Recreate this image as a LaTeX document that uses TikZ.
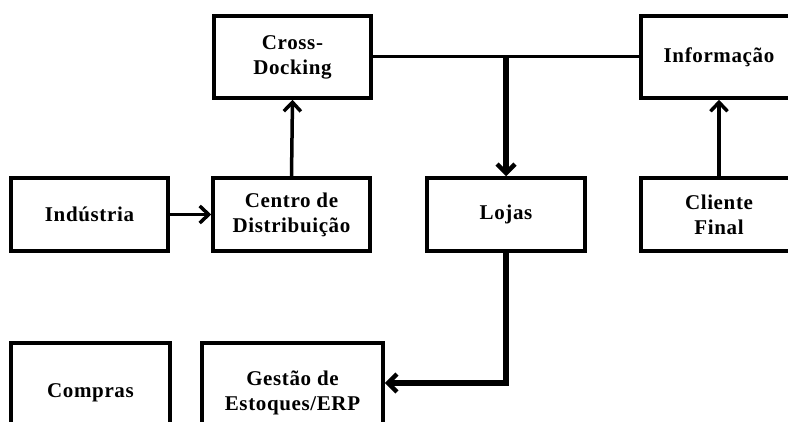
\documentclass[tikz,border=0pt]{standalone}
\usepackage{fontspec}
\setmainfont{Liberation Serif}[LetterSpace=3]
\usepackage{tikz}
\usetikzlibrary{arrows.meta,calc}
\definecolor{ink}{HTML}{000000}
\tikzset{
  box/.style={draw=ink,line width=3.5pt,fill=white,align=center,inner sep=2pt,
    font=\fontsize{21}{25}\selectfont\bfseries,minimum height=73pt},
  link/.style={draw=ink,line width=3pt},
  flow/.style={-{Straight Barb[length=9pt,width=17pt,line width=3.5pt]},draw=ink,line width=3.5pt},
  flowthick/.style={-{Straight Barb[length=9pt,width=18pt,line width=4.5pt]},draw=ink,line width=5.5pt}
}
\begin{document}
\begin{tikzpicture}[x=1pt,y=-1pt]
  \useasboundingbox (0,0) rectangle (788,422);
  \clip (0,0) rectangle (788,422);
  \node[box,minimum width=157pt,minimum height=82pt] (cross) at (292.5,57) {Cross-\\Docking};
  \node[box,minimum width=156pt,minimum height=82pt] (info) at (719,57) {Informação};
  \node[box,minimum width=157pt] (ind) at (89.5,214.5) {Indústria};
  \node[box,minimum width=157pt] (cd) at (291.5,214.5) {Centro de\\Distribuição};
  \node[box,minimum width=158pt] (lojas) at (506,214.5) {Lojas};
  \node[box,minimum width=156pt] (cliente) at (719,214.5) {Cliente\\Final};
  \node[box,minimum width=159pt,minimum height=100pt] (compras) at (90.5,393) {Compras};
  \node[box,minimum width=181pt,minimum height=100pt] (gestao) at (292.5,393) {Gestão de\\Estoques/ERP};
  \coordinate (split) at (506,57);
  \draw[link] (cross.east) -- (info.west);
  \draw[flowthick] (split) -- (lojas.north);
  \draw[flow] (ind.east) -- (cd.west);
  \draw[flow] (cd.north) -- (cross.south);
  \draw[flow,line width=4.5pt] (cliente.north) -- (info.south);
  \draw[flowthick] (lojas.south) |- ([yshift=10pt]gestao.east);
\end{tikzpicture}
\end{document}
